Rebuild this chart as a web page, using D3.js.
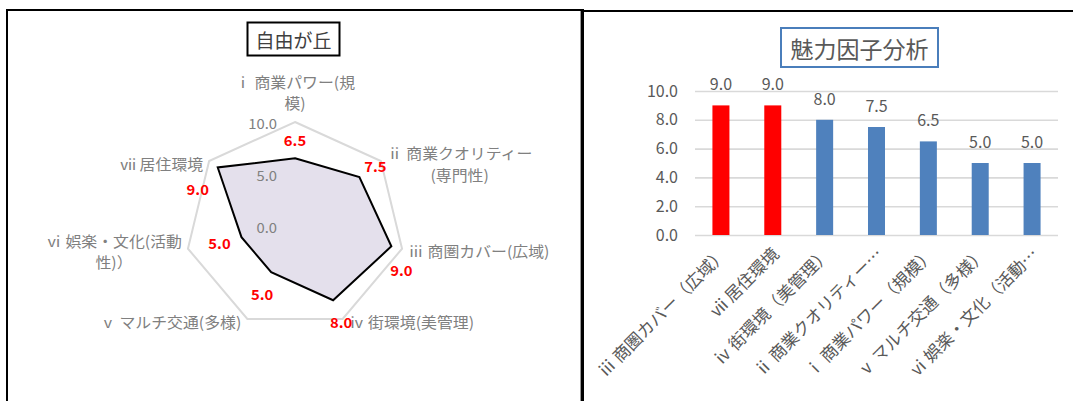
<!DOCTYPE html>
<html>
<head>
<meta charset="utf-8">
<script src="https://cdn.jsdelivr.net/npm/d3@7"></script>
<style>
  body { margin: 0; background: #fff; }
  svg { display: block; }
  text { font-family: "Noto Sans CJK JP", "Noto Sans", sans-serif; }
</style>
</head>
<body>
<svg id="chart" width="1073" height="401"></svg>
<script>
// Attraction factors and their scores (0–10)
const factors = [
  "ⅰ 商業パワー(規模)",
  "ⅱ 商業クオリティー(専門性)",
  "ⅲ 商圏カバー(広域)",
  "ⅳ 街環境(美管理)",
  "ⅴ マルチ交通(多様)",
  "ⅵ 娯楽・文化(活動性)）",
  "ⅶ 居住環境"
];
const scores = [6.5, 7.5, 9.0, 8.0, 5.0, 5.0, 9.0];
const radarTicks = [0, 5, 10];
const barTicks = [0, 2, 4, 6, 8, 10];
const radarTitle = "自由が丘";
const barTitle = "魅力因子分析";

// ---- layout ----
const radarWrap = [9, 10, null, null, null, 10, null];           // where radar labels break onto a second line
const valueNudge = [[0, -19], [16, -11], [10, 23], [8, 21], [-9, 21], [-22, 6], [-20, 21]];
const svg = d3.select("#chart");
const grey = "#595959";

// ---- frames ----
svg.append("line").attr("x1", 6).attr("x2", 583).attr("y1", 10).attr("y2", 10).attr("stroke", "#000").attr("stroke-width", 2);
svg.append("line").attr("x1", 7).attr("x2", 7).attr("y1", 9).attr("y2", 401).attr("stroke", "#000").attr("stroke-width", 2);
svg.append("line").attr("x1", 582.3).attr("x2", 582.3).attr("y1", 9).attr("y2", 401).attr("stroke", "#000").attr("stroke-width", 3.4);
svg.append("line").attr("x1", 584).attr("x2", 1073).attr("y1", 11).attr("y2", 11).attr("stroke", "#000").attr("stroke-width", 2);

// ---- radar chart ----
const cx = 295, cy = 225.6, R = 103.6, sx = 1.06;
const n = factors.length;
const r = d3.scaleLinear().domain([0, 10]).range([0, R]);
const ang = i => i * 2 * Math.PI / n;

// title
const tg = svg.append("g");
tg.append("rect").attr("x", 247.5).attr("y", 22.5).attr("width", 92).attr("height", 33)
  .attr("fill", "#fff").attr("stroke", "#000").attr("stroke-width", 2);
tg.append("text").attr("x", 293.5).attr("y", 39.5).attr("text-anchor", "middle")
  .attr("dominant-baseline", "central").attr("font-size", 19).attr("fill", "#404040").text(radarTitle);

const rg = svg.append("g").attr("transform", `translate(${cx},${cy}) scale(${sx},1)`);
const radial = d3.lineRadial().angle((d, i) => ang(i)).curve(d3.curveLinearClosed);

rg.append("path")
  .attr("d", radial.radius(() => r(10))(factors))
  .attr("fill", "none").attr("stroke", "#d9d9d9").attr("stroke-width", 2)
  .attr("vector-effect", "non-scaling-stroke");

rg.append("path")
  .attr("d", radial.radius(d => r(d))(scores))
  .attr("fill", "#e4e0ec").attr("stroke", "#000").attr("stroke-width", 2)
  .attr("stroke-linejoin", "miter")
  .attr("vector-effect", "non-scaling-stroke");

rg.selectAll(".rtick").data(radarTicks).join("text")
  .attr("x", -17).attr("y", d => -r(d) + 1)
  .attr("text-anchor", "end").attr("dominant-baseline", "central")
  .attr("font-size", 14).attr("fill", "#808080")
  .text(d3.format(".1f"));

// category labels around the outer ring
const lineH = 21.5;
factors.forEach((name, i) => {
  const lines = radarWrap[i] ? [name.slice(0, radarWrap[i]), name.slice(radarWrap[i])] : [name];
  const s = Math.sin(ang(i)), c = Math.cos(ang(i));
  const vx = R * s, vy = -R * c;
  const lg = rg.append("g");
  const texts = lines.map(t => lg.append("text").attr("font-size", 15).attr("fill", "#808080")
    .attr("text-anchor", "middle").attr("dominant-baseline", "central").text(t));
  const w = d3.max(texts, t => t.node().getComputedTextLength());
  let bx, by;
  if (Math.abs(s) < 0.1) {
    bx = vx; by = vy - 9 - lines.length * lineH + lineH / 2;
  } else {
    const gap = 6 / sx;
    bx = s > 0 ? vx + gap + w / 2 : vx - gap - w / 2;
    by = vy + 2 - (lines.length - 1) * lineH / 2;
  }
  texts.forEach((t, k) => t.attr("x", bx).attr("y", by + k * lineH));
});

// value labels, drawn above the category labels
rg.selectAll(".rval").data(scores).join("text")
  .attr("x", (d, i) => r(d) * Math.sin(ang(i)) + valueNudge[i][0] / sx)
  .attr("y", (d, i) => -r(d) * Math.cos(ang(i)) + valueNudge[i][1])
  .attr("text-anchor", "middle").attr("dominant-baseline", "central")
  .attr("font-size", 14).attr("font-weight", "bold").attr("fill", "#ff0000")
  .text(d3.format(".1f"));

// ---- bar chart ----
const order = d3.range(n).sort((a, b) => d3.descending(scores[a], scores[b]));
// category text on the bar axis: full-width brackets, long names cut with an ellipsis
const shortName = s => {
  const t = s.length > 11 ? s.slice(0, 10) + "…" : s;
  return t.replace(/\(/g, "（").replace(/\)/g, "）");
};

const x = d3.scaleBand().domain(order.map(i => factors[i])).range([695, 1058])
  .paddingInner(0.672).paddingOuter(0.336);
const y = d3.scaleLinear().domain([0, 10]).range([235, 91]);

const bg = svg.append("g");
bg.append("rect").attr("x", 781).attr("y", 28).attr("width", 157).attr("height", 39)
  .attr("fill", "#fff").attr("stroke", "#4a7ebb").attr("stroke-width", 2);
bg.append("text").attr("x", 859.5).attr("y", 47.5).attr("text-anchor", "middle")
  .attr("dominant-baseline", "central").attr("font-size", 23).attr("fill", grey).text(barTitle);

const yAxis = bg.append("g").attr("transform", "translate(695,0)")
  .call(d3.axisLeft(y).tickValues(barTicks).tickSize(-363).tickPadding(17).tickFormat(d3.format(".1f")));
yAxis.select(".domain").remove();
yAxis.selectAll("line").attr("stroke", "#d9d9d9").attr("stroke-width", 1.6);
yAxis.selectAll("text").attr("font-size", 16).attr("fill", grey)
  .attr("font-family", "\"Noto Sans CJK JP\", \"Noto Sans\", sans-serif");

bg.selectAll(".bar").data(order).join("rect")
  .attr("x", i => x(factors[i])).attr("width", x.bandwidth())
  .attr("y", i => y(scores[i])).attr("height", i => y(0) - y(scores[i]))
  .attr("fill", (i, k) => k < 2 ? "#ff0000" : "#4f81bd");

bg.selectAll(".bval").data(order).join("text")
  .attr("x", i => x(factors[i]) + x.bandwidth() / 2)
  .attr("y", i => y(scores[i]) - 22)
  .attr("text-anchor", "middle").attr("dominant-baseline", "central")
  .attr("font-size", 16).attr("fill", grey)
  .text(i => d3.format(".1f")(scores[i]));

bg.selectAll(".blab").data(order).join("text")
  .attr("transform", i => `translate(${x(factors[i]) + x.bandwidth() / 2 + 3},251) rotate(-45)`)
  .attr("text-anchor", "end").attr("dy", "0.35em")
  .attr("font-size", 17).attr("fill", grey)
  .text(i => shortName(factors[i]));
</script>
</body>
</html>
